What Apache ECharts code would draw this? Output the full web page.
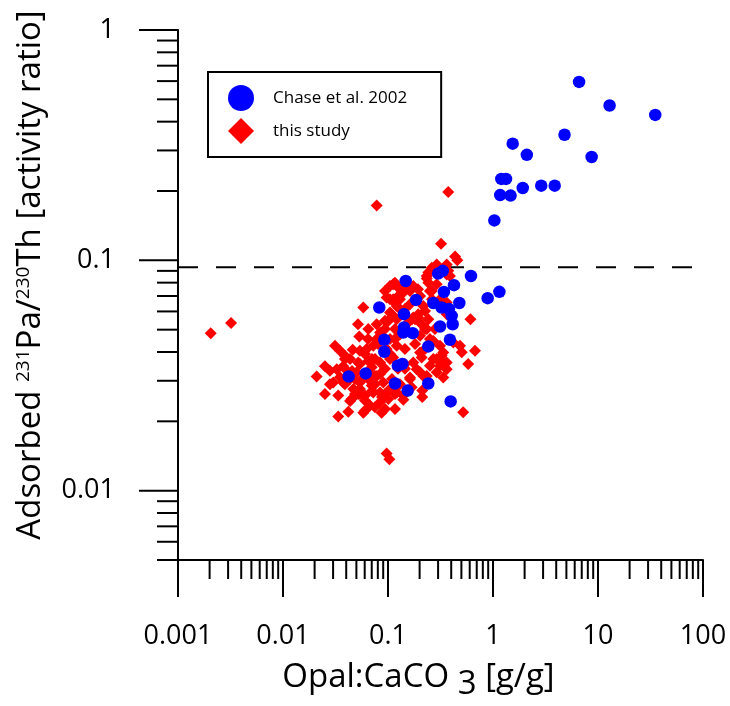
<!DOCTYPE html>
<html><head><meta charset="utf-8">
<script src="https://cdn.jsdelivr.net/npm/echarts@6/dist/echarts.min.js"></script>
<style>html,body{margin:0;padding:0;background:#fff}#c{width:730px;height:706px}</style>
</head><body><div id="c"></div>
<script>
// ---- data (Opal:CaCO3 [g/g], adsorbed 231Pa/230Th activity ratio) ----
const chaseData = [
 [6.6,0.595],[12.9,0.47],[35.1,0.428],[4.8,0.351],[1.54,0.321],[2.1,0.287],[8.7,0.281],
 [1.2,0.2257],[1.33,0.2257],[1.92,0.206],[2.88,0.211],[3.87,0.211],[1.17,0.192],[1.47,0.191],
 [1.03,0.149],[0.617,0.0855],[1.15,0.073],[0.89,0.0685],
 [0.1475,0.0813],[0.30,0.0876],[0.332,0.09],[0.425,0.078],[0.341,0.0729],[0.185,0.0673],
 [0.478,0.0653],[0.27,0.0653],[0.0826,0.0624],[0.324,0.0624],[0.381,0.0614],[0.142,0.0584],
 [0.404,0.0574],[0.413,0.0528],[0.313,0.0516],[0.142,0.0511],[0.14,0.0486],[0.172,0.0483],
 [0.389,0.0452],[0.0922,0.0452],[0.0922,0.0401],[0.242,0.0423],[0.137,0.0355],[0.124,0.0349],
 [0.0613,0.0323],[0.0422,0.0313],[0.1166,0.0292],[0.242,0.0292],[0.154,0.0272],[0.395,0.0244]
];
const studyData = [
 [0.00205,0.0483],[0.0032,0.0534],[0.078,0.173],[0.375,0.198],[0.32,0.118],[0.435,0.104],[0.457,0.1],
 [0.097,0.0145],[0.103,0.0137],[0.52,0.0219],[0.58,0.0355],[0.674,0.0405],[0.61,0.0555],[0.485,0.0426],
 [0.504,0.0399],[0.212,0.0255],[0.212,0.0272],[0.14,0.0248],[0.087,0.0218],[0.0582,0.0218],
 [0.112,0.0787],[0.0582,0.0624],[0.0649,0.0503],[0.0533,0.0467],[0.0313,0.0426],[0.0461,0.0409],
 [0.054,0.0405],[0.0627,0.0412],[0.078,0.0455],[0.084,0.0486],[0.0251,0.0347],[0.0209,0.0313],
 [0.028,0.0332],[0.0325,0.0337],[0.0375,0.0347],[0.0301,0.0295],[0.0251,0.0263],[0.0336,0.0259],
 [0.0419,0.022],[0.0336,0.021],[0.0604,0.0223],[0.0468,0.0276],[0.0521,0.0263],[0.0604,0.0259],
 [0.0674,0.0234],[0.0451,0.025],[0.0725,0.0267],[0.0375,0.0295],[0.0435,0.0305],[0.0503,0.0327],
 [0.0521,0.036],[0.0649,0.0366],[0.07,0.0343],[0.078,0.0315],[0.0902,0.0295],[0.1045,0.0276],
 [0.1007,0.025],[0.084,0.0242],[0.112,0.0379],[0.121,0.0426],[0.097,0.0412],[0.1045,0.0455],
 [0.1166,0.0503],[0.121,0.0555],[0.1084,0.0584],[0.097,0.069],[0.112,0.0666],[0.0936,0.0546],
 [0.078,0.0528],[0.0725,0.0426],[0.084,0.036],[0.0349,0.0405],[0.0389,0.0385],[0.054,0.0295],
 [0.0649,0.0305],
 [0.115,0.0793],[0.234,0.0833],[0.242,0.0885],[0.261,0.0929],[0.291,0.096],[0.362,0.096],
 [0.362,0.0869],[0.0936,0.0736],[0.121,0.069],[0.13,0.0749],[0.1045,0.0678],[0.121,0.0634],
 [0.162,0.0736],[0.174,0.0774],[0.202,0.07],[0.217,0.0634],[0.242,0.0555],[0.261,0.0736],
 [0.291,0.0787],[0.313,0.0678],[0.362,0.0656],[0.362,0.0584],[0.194,0.0584],[0.181,0.0555],
 [0.225,0.0503],[0.202,0.047],[0.27,0.0447],[0.313,0.0426],[0.336,0.0398],[0.291,0.0373],
 [0.27,0.0373],[0.313,0.0349],[0.362,0.036],[0.324,0.0385],[0.202,0.0398],[0.174,0.036],
 [0.202,0.0327],[0.234,0.0315],[0.251,0.0349],
 [0.1166,0.08],[0.1045,0.0774],[0.234,0.0855],[0.242,0.08],[0.251,0.0736],[0.375,0.09],
 [0.389,0.0855],[0.194,0.0565],[0.209,0.0528],[0.234,0.0503],[0.156,0.0537],[0.174,0.0565],
 [0.112,0.0678],[0.1254,0.0624],[0.1045,0.0594],[0.14,0.0725],
 [0.418,0.044],[0.209,0.0379],[0.1875,0.0337],[0.217,0.0315],[0.291,0.0327],[0.336,0.031],
 [0.362,0.0337],[0.324,0.036],[0.0752,0.0315],[0.07,0.0286],[0.084,0.0267],[0.0604,0.0246],
 [0.0752,0.023],[0.121,0.0267],[0.14,0.0259],[0.168,0.0281],
 [0.0435,0.0373],[0.054,0.0355],[0.0674,0.0321],[0.0389,0.029],[0.0485,0.0263],[0.0752,0.029],
 [0.084,0.0321],[0.0604,0.0392],[0.0752,0.0373],[0.0936,0.0263],[0.1166,0.0226],[0.13,0.0678],
 [0.145,0.0614],[0.162,0.0645],[0.0936,0.0503],[0.1166,0.0455],[0.145,0.0412],[0.181,0.0433],
 [0.225,0.0412],[0.251,0.0455],[0.28,0.0503],[0.145,0.0355],[0.162,0.031],[0.13,0.029],
 [0.0936,0.0338],[0.1045,0.0373],[0.0485,0.0305],[0.0389,0.0338],[0.054,0.0276],
 [0.0389,0.0373],[0.0454,0.0331],[0.0565,0.0305],[0.0704,0.0271],[0.0877,0.0255],[0.109,0.0305],
 [0.1245,0.0338],[0.145,0.0338],[0.162,0.0305],[0.1045,0.0392],[0.0803,0.0433],[0.0645,0.0455],
 [0.0518,0.0528],[0.1,0.0544],[0.13,0.0478],[0.1693,0.0555],[0.225,0.0602],[0.2625,0.0678],
 [0.193,0.0749],[0.145,0.0749],[0.1166,0.0263],[0.054,0.0263],[0.0435,0.0245],[0.0349,0.0311],
 [0.028,0.029],[0.0936,0.0226],[0.0704,0.0373]
];
const thresholdRatio = 0.0933;
const seriesNames = ['Chase et al. 2002', 'this study'];
const xRange = [0.001, 100];
const yRange = [0.005, 1];
const xTickLabels = ['0.001', '0.01', '0.1', '1', '10', '100'];
const xMajorTicks = [0.001, 0.01, 0.1, 1, 10, 100];
const yTickLabels = ['0.01', '0.1', '1'];
const yMajorTicks = [0.01, 0.1, 1];
const minorSteps = [2, 3, 4, 5, 6, 7, 8, 9];
const yBottomMinor = [0.005, 0.006, 0.007, 0.008, 0.009];

// tick table: [x, y, kind, labelIndex]  kind 0 x-minor,1 x-major,2 y-minor,3 y-major
const tickRows = [];
xMajorTicks.forEach((d, i) => {
  tickRows.push([d, yRange[0], 1, i]);
  if (d < xRange[1]) minorSteps.forEach(m => tickRows.push([d * m, yRange[0], 0, -1]));
});
yBottomMinor.forEach(v => tickRows.push([xRange[0], v, 2, -1]));
yMajorTicks.forEach((d, i) => {
  tickRows.push([xRange[0], d, 3, i]);
  if (d < yRange[1]) minorSteps.forEach(m => tickRows.push([xRange[0], d * m, 2, -1]));
});

const FONT = 'Open Sans';
const chart = echarts.init(document.getElementById('c'), null, {renderer: 'canvas'});

function renderTick(params, api) {
  const p = api.coord([api.value(0), api.value(1)]);
  const kind = api.value(2);
  const li = api.value(3);
  let x2 = p[0], y2 = p[1];
  if (kind === 0) y2 = p[1] + 19;
  else if (kind === 1) y2 = p[1] + 37;
  else if (kind === 2) x2 = p[0] - 21;
  else x2 = p[0] - 39;
  const children = [{type: 'line', shape: {x1: p[0], y1: p[1], x2: x2, y2: y2},
    style: {stroke: '#000', lineWidth: 2}}];
  if (kind === 1) {
    children.push({type: 'text', x: p[0], y: p[1] + 63,
      style: {text: xTickLabels[li], fill: '#000', fontFamily: FONT, fontSize: 27, align: 'center', verticalAlign: 'top'}});
  } else if (kind === 3) {
    children.push({type: 'text', x: p[0] - 63, y: p[1],
      style: {text: yTickLabels[li], fill: '#000', fontFamily: FONT, fontSize: 27, align: 'right', verticalAlign: 'middle'}});
  }
  return {type: 'group', children: children};
}

chart.setOption({
  animation: false,
  backgroundColor: '#fff',
  grid: {left: 178, top: 30, width: 525, height: 531.5, containLabel: false},
  legend: {
    orient: 'vertical', left: 208, top: 72,
    padding: [13, 34, 13, 20], itemGap: 7, itemWidth: 26, itemHeight: 26,
    borderColor: '#000', borderWidth: 2, backgroundColor: '#fff',
    textStyle: {fontFamily: FONT, fontSize: 17, color: '#000', padding: [0, 0, 0, 14]},
    data: [{name: seriesNames[0], icon: 'circle'}, {name: seriesNames[1], icon: 'diamond'}]
  },
  xAxis: {
    type: 'log', min: xRange[0], max: xRange[1],
    axisLine: {show: true, lineStyle: {color: '#000', width: 2}},
    axisTick: {show: false}, axisLabel: {show: false}, splitLine: {show: false}, minorTick: {show: false},
    name: '{t|Opal:CaCO }{s|3}{t| [g/g]}', nameLocation: 'middle', nameGap: 94,
    nameTextStyle: {color: '#000', fontFamily: FONT, fontSize: 33, padding: [0, 44, 0, 0],
      rich: {t: {fontFamily: FONT, fontSize: 33, color: '#000'},
             s: {fontFamily: FONT, fontSize: 33, color: '#000', padding: [14, 0, 0, 0]}}}
  },
  yAxis: {
    type: 'log', min: yRange[0], max: yRange[1],
    axisLine: {show: true, lineStyle: {color: '#000', width: 2}},
    axisTick: {show: false}, axisLabel: {show: false}, splitLine: {show: false}, minorTick: {show: false},
    name: '{t|Adsorbed }{u|231}{t|Pa/}{u|230}{t|Th [activity ratio]}', nameLocation: 'middle', nameGap: 131,
    nameTextStyle: {color: '#000', fontFamily: FONT, fontSize: 33, padding: [0, 0, 0, 40],
      rich: {t: {fontFamily: FONT, fontSize: 33, color: '#000'},
             u: {fontFamily: FONT, fontSize: 19, color: '#000', padding: [0, 0, 14, 0]}}}
  },
  series: [
    {type: 'custom', name: 'ticks', renderItem: renderTick, data: tickRows, clip: false, silent: true,
     encode: {x: 0, y: 1}, z: 1},
    {type: 'line', name: 'threshold', data: [[xRange[0], thresholdRatio], [xRange[1], thresholdRatio]],
     symbol: 'none', silent: true, lineStyle: {color: '#000', width: 2, type: [20, 18]}, z: 2},
    {type: 'scatter', name: seriesNames[1], data: studyData, symbol: 'diamond', symbolSize: 12,
     itemStyle: {color: '#ff0000', opacity: 1}, z: 3},
    {type: 'scatter', name: seriesNames[0], data: chaseData, symbol: 'circle', symbolSize: 12.5,
     itemStyle: {color: '#0000ff', opacity: 1}, z: 4}
  ]
});
</script></body></html>
